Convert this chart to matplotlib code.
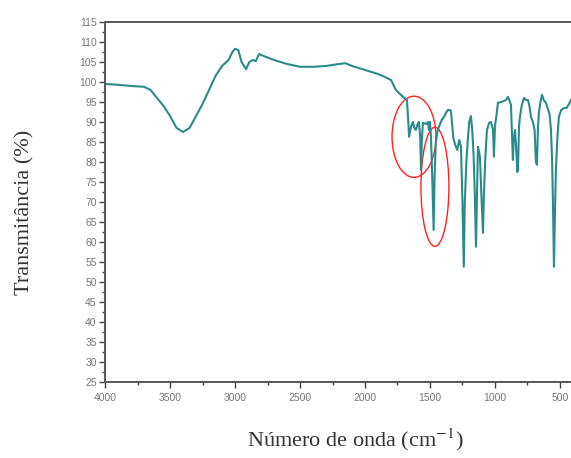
import numpy as np
import matplotlib
matplotlib.use("Agg")
import matplotlib.pyplot as plt
from matplotlib.patches import Ellipse
from matplotlib.ticker import MultipleLocator

# FTIR spectrum (wavenumber in cm-1, transmittance in %)
wavenumber = [
    4000, 3900, 3800, 3700, 3650, 3600, 3550, 3500, 3450, 3400, 3350, 3300,
    3250, 3200, 3150, 3100, 3050, 3020, 3000, 2975, 2950, 2915, 2890, 2860,
    2840, 2815, 2780, 2700, 2600, 2500, 2400, 2300, 2200, 2150, 2100, 2000,
    1900, 1850, 1800, 1762, 1708, 1677, 1665, 1661, 1646, 1631, 1620, 1608,
    1595, 1585, 1575, 1569, 1562, 1554, 1530, 1515, 1508, 1500, 1492, 1482,
    1472, 1465, 1455, 1440, 1431, 1410, 1392, 1377, 1362, 1345, 1338, 1320,
    1308, 1290, 1275, 1262, 1250, 1240, 1232, 1220, 1208, 1198, 1185, 1175,
    1165, 1155, 1146, 1138, 1131, 1122, 1115, 1105, 1092, 1085, 1075, 1062,
    1045, 1030, 1015, 1008, 1000, 990, 977, 950, 915, 900, 890, 877,
    870, 862, 855, 846, 838, 828, 823, 815, 808, 795, 777, 760,
    746, 735, 723, 708, 695, 685, 677, 669, 662, 650, 638, 625,
    608, 590, 580, 569, 560, 554, 546, 540, 531, 520, 508, 490,
    469, 450, 430, 415,
]
transmittance = [
    99.5, 99.3, 99.0, 98.8, 98.0, 96.0, 94.0, 91.5, 88.5, 87.5, 88.5, 91.5,
    94.5, 98.0, 101.5, 104.0, 105.5, 107.5, 108.3, 108.0, 105.0, 103.2, 105.0, 105.5,
    105.2, 107.0, 106.5, 105.5, 104.5, 103.8, 103.8, 104.0, 104.5, 104.7, 104.0, 103.0,
    102.0, 101.3, 100.5, 98.0, 96.3, 95.5, 89.0, 86.3, 88.8, 90.0, 88.5, 88.0,
    89.5, 90.0, 86.0, 78.0, 86.0, 89.8, 89.5, 90.0, 88.0, 90.0, 86.0, 75.5,
    63.0, 76.0, 85.0, 88.0, 88.8, 90.5, 91.3, 92.3, 93.0, 93.0, 92.5, 86.0,
    84.5, 83.0, 85.5, 84.0, 70.0, 53.8, 70.0, 80.0, 86.0, 90.0, 91.5, 88.0,
    82.0, 72.0, 58.8, 72.0, 83.8, 82.5, 81.0, 72.0, 62.3, 72.0, 80.5, 88.0,
    89.8, 90.0, 88.0, 81.3, 89.0, 91.3, 94.8, 95.0, 95.5, 96.3, 95.5, 94.3,
    88.0, 80.5, 86.0, 88.0, 84.0, 77.5, 78.0, 88.8, 91.3, 94.0, 96.0, 95.5,
    95.5, 94.0, 91.3, 90.0, 88.0, 80.0, 79.3, 88.8, 92.3, 95.0, 96.8, 95.5,
    94.8, 93.0, 92.0, 88.0, 80.0, 70.0, 53.8, 65.0, 78.0, 86.0, 91.3, 93.0,
    93.5, 93.5, 94.5, 95.5,
]

# highlighted bands (centre wavenumber, centre %, width, height)
highlight_centres = [(1623, 86.3), (1462, 73.8)]
highlight_sizes = [(338, 20.3), (215, 29.8)]

plt.rcParams["mathtext.fontset"] = "stix"

fig = plt.figure(figsize=(5.71, 4.58), dpi=100)
ax = fig.add_axes([0.184, 0.166, 0.816, 0.786])

ax.plot(wavenumber, transmittance, color="#2b8a8a", lw=1.5)

for (cx, cy), (w, h) in zip(highlight_centres, highlight_sizes):
    ax.add_patch(Ellipse((cx, cy), w, h, fill=False, edgecolor="#ff2020", lw=1.0))

ax.set_xlim(4000, 415)
ax.set_ylim(25, 115)
ax.xaxis.set_major_locator(MultipleLocator(500))
ax.xaxis.set_minor_locator(MultipleLocator(250))
ax.yaxis.set_major_locator(MultipleLocator(5))
ax.yaxis.set_minor_locator(MultipleLocator(2.5))

ax.spines["right"].set_visible(False)
for side in ["left", "bottom", "top"]:
    ax.spines[side].set_color("#555555")
    ax.spines[side].set_linewidth(1.4)

ax.tick_params(which="major", direction="out", length=4, width=1.0,
               color="#444444", labelsize=7.5, labelcolor="#777777",
               labelfontfamily="Liberation Sans")
ax.tick_params(which="minor", direction="out", length=2, width=1.0, color="#444444")
ax.tick_params(axis="x", pad=4)
ax.tick_params(axis="y", pad=2)

fig.text(0.044, 0.537, "Transmitância (%)", rotation=90, ha="center", va="center",
         fontsize=16, family="Liberation Serif", color="#333333")
fig.text(0.622, 0.039, "Número de onda (cm$^{-1}$)", ha="center", va="center",
         fontsize=16, family="Liberation Serif", color="#333333")

fig.savefig("out.png", dpi=100)
